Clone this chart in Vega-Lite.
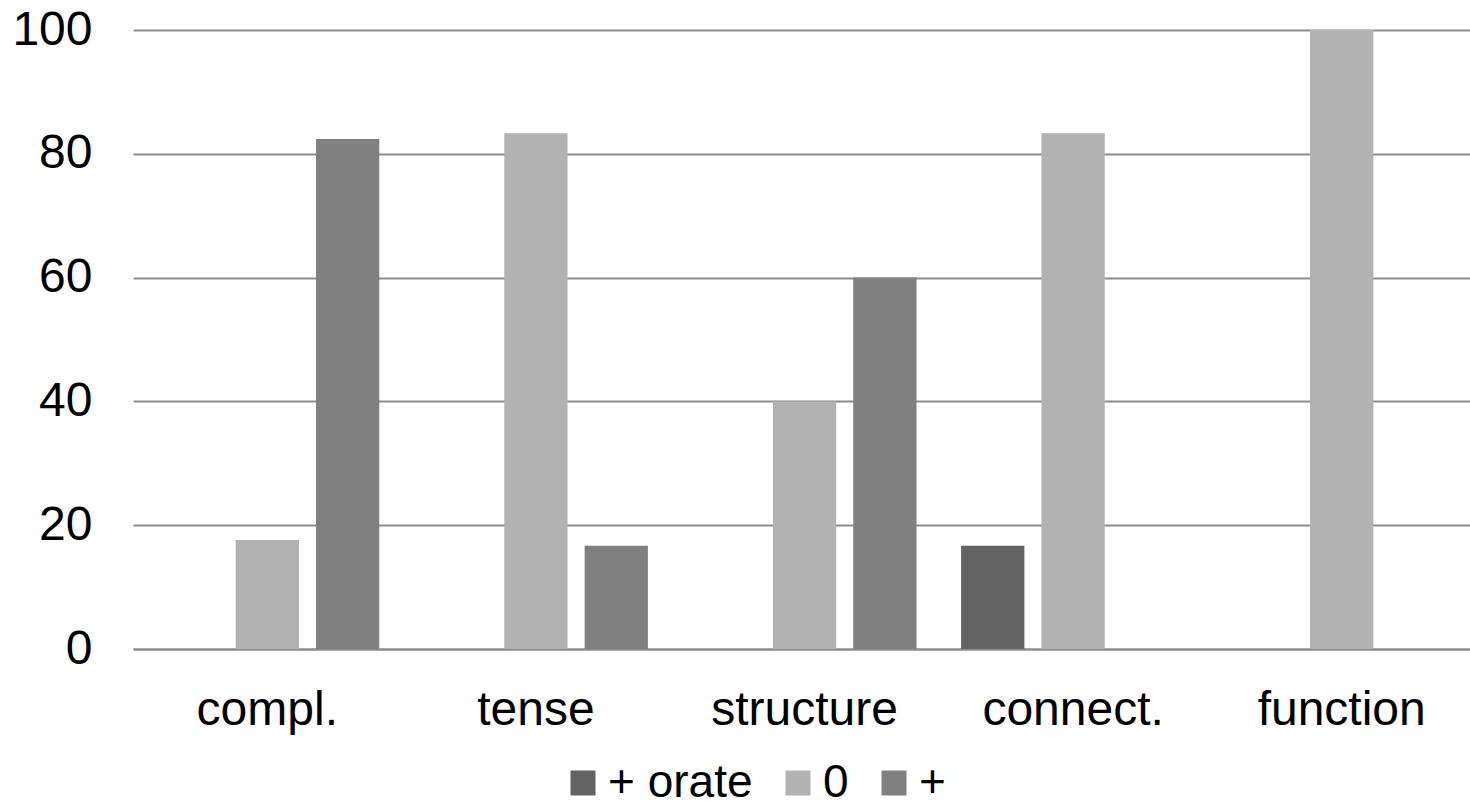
{
  "$schema": "https://vega.github.io/schema/vega-lite/v6.json",
  "autosize": "none",
  "width": 1343,
  "height": 619,
  "padding": {"left": 133, "top": 30, "right": 0, "bottom": 156},
  "background": "white",
  "config": {
    "font": "Liberation Sans",
    "view": {"stroke": null}
  },
  "data": {
    "values": [
      {"cat": "compl.", "series": "+ orate", "value": 0},
      {"cat": "compl.", "series": "0", "value": 17.6},
      {"cat": "compl.", "series": "+", "value": 82.4},
      {"cat": "tense", "series": "+ orate", "value": 0},
      {"cat": "tense", "series": "0", "value": 83.3},
      {"cat": "tense", "series": "+", "value": 16.7},
      {"cat": "structure", "series": "+ orate", "value": 0},
      {"cat": "structure", "series": "0", "value": 40},
      {"cat": "structure", "series": "+", "value": 60},
      {"cat": "connect.", "series": "+ orate", "value": 16.7},
      {"cat": "connect.", "series": "0", "value": 83.3},
      {"cat": "connect.", "series": "+", "value": 0},
      {"cat": "function", "series": "+ orate", "value": 0},
      {"cat": "function", "series": "0", "value": 100},
      {"cat": "function", "series": "+", "value": 0}
    ]
  },
  "mark": {"type": "bar"},
  "encoding": {
    "x": {
      "field": "cat",
      "type": "nominal",
      "sort": ["compl.", "tense", "structure", "connect.", "function"],
      "scale": {"paddingInner": 0, "paddingOuter": 0},
      "axis": {
        "title": null,
        "labelAngle": 0,
        "labelFontSize": 48,
        "labelLimit": 0,
        "labelColor": "black",
        "labelPadding": 37,
        "ticks": false,
        "domain": true,
        "domainColor": "#8d8d8d",
        "domainWidth": 2
      }
    },
    "xOffset": {
      "field": "series",
      "type": "nominal",
      "sort": ["+ orate", "0", "+"],
      "scale": {"paddingInner": 0.2125, "paddingOuter": 0.2775}
    },
    "y": {
      "field": "value",
      "type": "quantitative",
      "scale": {"domain": [0, 100], "nice": false},
      "axis": {
        "title": null,
        "values": [0, 20, 40, 60, 80, 100],
        "labelFontSize": 48,
        "labelColor": "black",
        "labelPadding": 41,
        "ticks": false,
        "domain": false,
        "grid": true,
        "gridColor": "#8d8d8d",
        "gridWidth": 2
      }
    },
    "color": {
      "field": "series",
      "type": "nominal",
      "sort": ["+ orate", "0", "+"],
      "scale": {"domain": ["+ orate", "0", "+"], "range": ["#636363", "#b2b2b2", "#808080"]},
      "legend": {
        "title": null,
        "orient": "none",
        "legendX": 427,
        "legendY": 730,
        "direction": "horizontal",
        "symbolType": "square",
        "symbolSize": 625,
        "symbolStrokeWidth": 0,
        "symbolOpacity": 1,
        "labelFontSize": 46,
        "labelLimit": 0,
        "labelColor": "black",
        "labelOffset": 2,
        "columnPadding": 22
      }
    }
  }
}
